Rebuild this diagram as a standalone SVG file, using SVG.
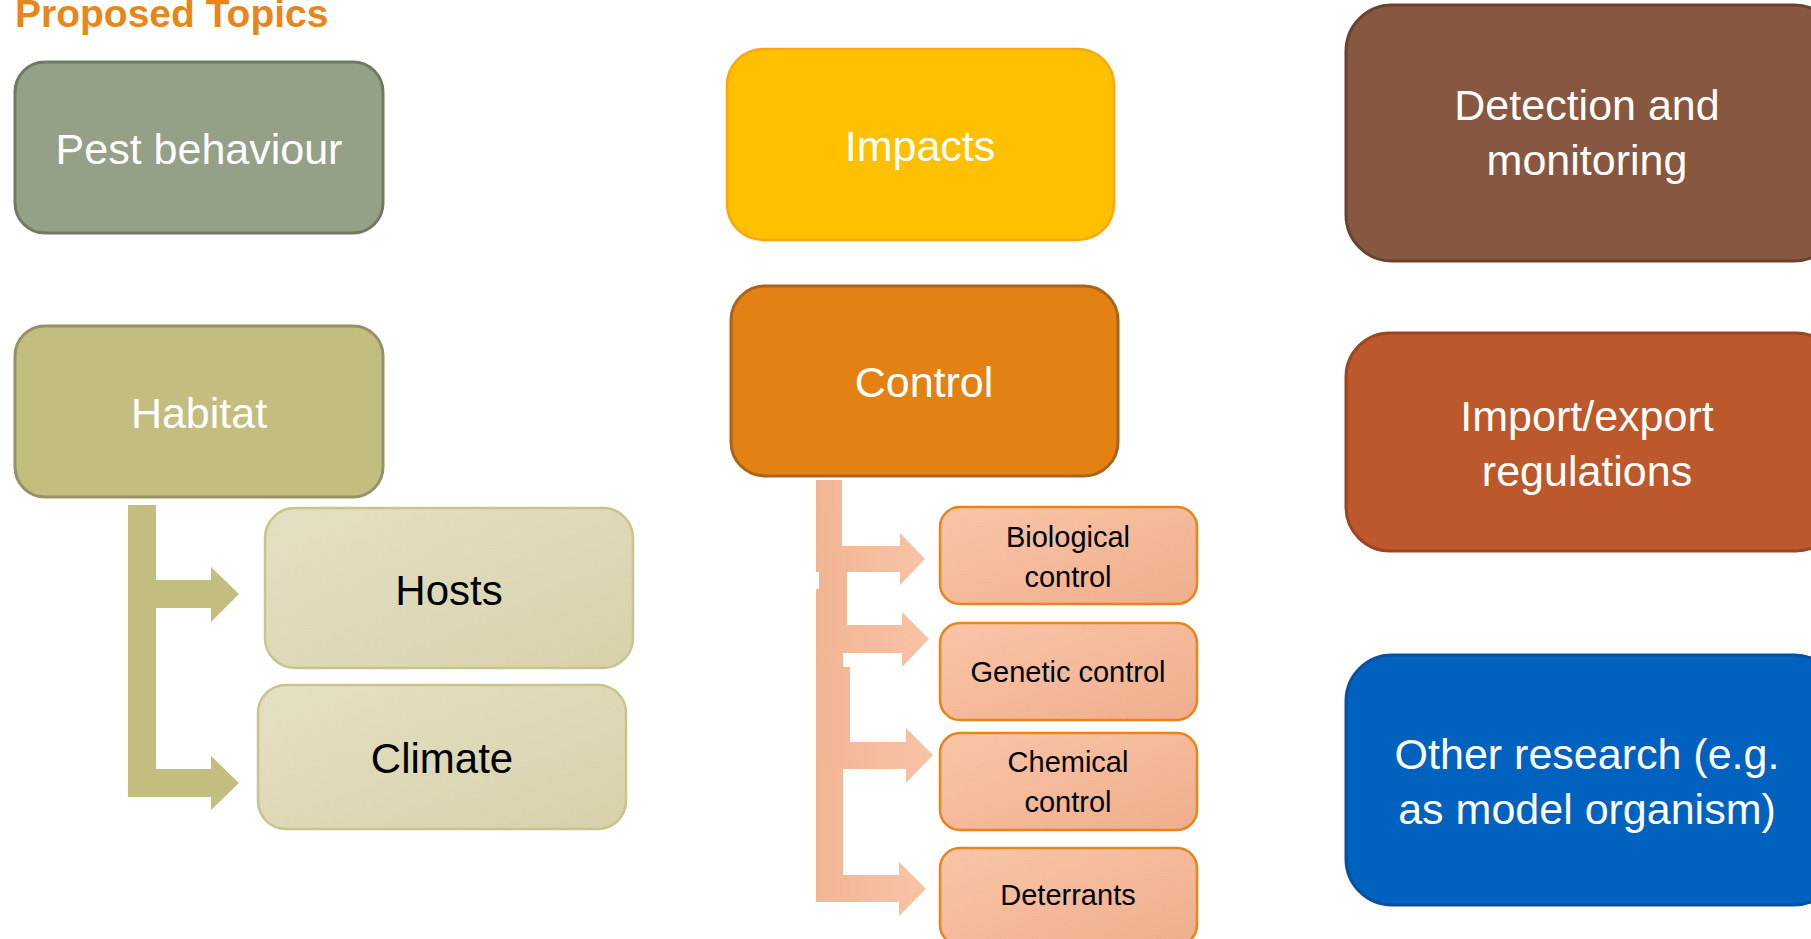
<svg xmlns="http://www.w3.org/2000/svg" width="1811" height="939" viewBox="0 0 1811 939">
<defs>
<linearGradient id="gLight" x1="0" y1="0" x2="1" y2="1">
<stop offset="0" stop-color="#E4E0C3"/>
<stop offset="1" stop-color="#D7D1AB"/>
</linearGradient>
<linearGradient id="gSal" x1="0" y1="0" x2="1" y2="1">
<stop offset="0" stop-color="#F9C5A8"/>
<stop offset="1" stop-color="#EFAE8C"/>
</linearGradient>
<linearGradient id="gArr" x1="0" y1="0" x2="1" y2="0">
<stop offset="0" stop-color="#F2B594"/>
<stop offset="1" stop-color="#F8C3A6"/>
</linearGradient>
</defs>
<style>
text{font-family:"Liberation Sans",Arial,sans-serif;text-anchor:middle}
.big{font-size:43px;fill:#FFFFFF}
.dark{font-size:42px;fill:#000000}
.small{font-size:29px;fill:#000000}
.title{font-size:39px;font-weight:bold;fill:#E8861A;text-anchor:start}
.child{fill:url(#gLight);stroke:#C9C48C;stroke-width:2.5}
.sub{fill:url(#gSal);stroke:#E8841A;stroke-width:2.5}
.hab{fill:#C3BD80}
.carr{fill:url(#gArr)}
</style>
<rect width="1811" height="939" fill="#FFFFFF"/>
<text class="title" x="15" y="27">Proposed Topics</text>

<g id="connectors">
<path class="hab" d="M128,505 H156 V580 H211 V567 L239,594 L211,622 V608 H156 V769 H211 V756 L239,783 L211,810 V797 H128 Z"/>
<path class="carr" d="M816,480 H842 V546 H900 V533 L925,559 L900,585 V572 H816 Z"/>
<path class="carr" d="M816,589 H843 V875 H899 V862 L926,889 L899,916 V902 H816 Z"/>
<path class="carr" d="M823,667 H850 V742 H906 V728 L933,755 L906,783 V769 H823 Z"/>
<path class="carr" d="M819,550 H847 V625 H902 V612 L929,639 L902,667 V653 H819 Z"/>
</g>

<g id="pest">
<rect x="15" y="62" width="368" height="171" rx="30" fill="#94A088" stroke="#6F7A62" stroke-width="3"/>
<text class="big" x="199" y="164">Pest behaviour</text>
</g>
<g id="habitat">
<rect x="15" y="326" width="368" height="171" rx="30" fill="#C3BD80" stroke="#979265" stroke-width="3"/>
<text class="big" x="199" y="428">Habitat</text>
</g>
<g id="hosts">
<rect class="child" x="265" y="508" width="368" height="160" rx="30"/>
<text class="dark" x="449" y="605">Hosts</text>
</g>
<g id="climate">
<rect class="child" x="258" y="685" width="368" height="144" rx="28"/>
<text class="dark" x="442" y="773">Climate</text>
</g>
<g id="impacts">
<rect x="727" y="49" width="387" height="191" rx="36" fill="#FFC000" stroke="#FFA510" stroke-width="2.5"/>
<text class="big" x="920" y="161">Impacts</text>
</g>
<g id="control">
<rect x="731" y="286" width="387" height="190" rx="34" fill="#E38213" stroke="#A8641A" stroke-width="3"/>
<text class="big" x="924" y="397">Control</text>
</g>
<g id="biological">
<rect class="sub" x="940" y="507" width="257" height="97" rx="20"/>
<text class="small" x="1068" y="547">Biological</text>
<text class="small" x="1068" y="587">control</text>
</g>
<g id="genetic">
<rect class="sub" x="940" y="623" width="257" height="97" rx="20"/>
<text class="small" x="1068" y="682">Genetic control</text>
</g>
<g id="chemical">
<rect class="sub" x="940" y="733" width="257" height="97" rx="20"/>
<text class="small" x="1068" y="772">Chemical</text>
<text class="small" x="1068" y="812">control</text>
</g>
<g id="deterrants">
<rect class="sub" x="940" y="848" width="257" height="97" rx="20"/>
<text class="small" x="1068" y="905">Deterrants</text>
</g>
<g id="detection">
<rect x="1346" y="5" width="494" height="256" rx="46" fill="#875742" stroke="#6A4330" stroke-width="3"/>
<text class="big" x="1587" y="120">Detection and</text>
<text class="big" x="1587" y="175">monitoring</text>
</g>
<g id="import">
<rect x="1346" y="333" width="494" height="218" rx="44" fill="#BC582C" stroke="#9B4621" stroke-width="3"/>
<text class="big" x="1587" y="431">Import/export</text>
<text class="big" x="1587" y="486">regulations</text>
</g>
<g id="other">
<rect x="1346" y="655" width="494" height="250" rx="46" fill="#0062BE" stroke="#0A50A0" stroke-width="3"/>
<text class="big" x="1587" y="769">Other research (e.g.</text>
<text class="big" x="1587" y="824">as model organism)</text>
</g>
</svg>
